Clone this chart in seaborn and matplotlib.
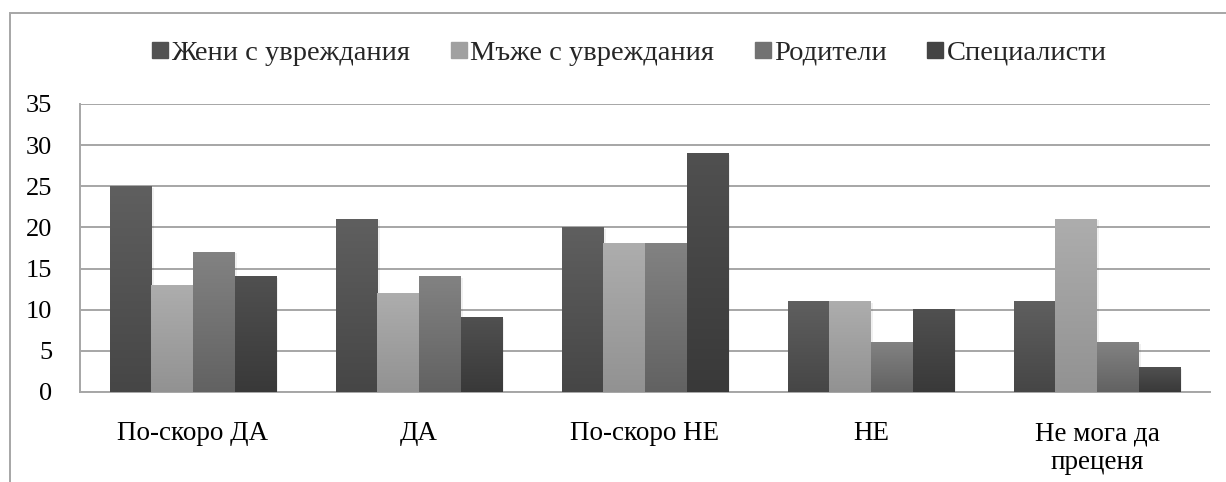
import numpy as np
import pandas as pd
import matplotlib
matplotlib.use("Agg")
import matplotlib.pyplot as plt
from matplotlib.colors import to_rgb
from matplotlib.lines import Line2D
from matplotlib.patches import Rectangle
import seaborn as sns

categories = ["По-скоро ДА", "ДА", "По-скоро НЕ", "НЕ", "Не мога да\nпреценя"]
series = ["Жени с увреждания", "Мъже с увреждания", "Родители", "Специалисти"]
women = [25, 21, 20, 11, 11]
men = [13, 12, 18, 11, 21]
parents = [17, 14, 18, 6, 6]
specialists = [14, 9, 29, 10, 3]

# top / bottom shades of each series' vertical gradient
top_colors = ["#5f5f5f", "#adadad", "#828282", "#505050"]
bottom_colors = ["#464646", "#929292", "#626262", "#393939"]
mid_colors = ["#525252", "#a0a0a0", "#727272", "#444444"]

df = pd.DataFrame({
    "cat": np.repeat(categories, len(series)),
    "series": series * len(categories),
    "val": [v for row in zip(women, men, parents, specialists) for v in row],
})

sns.set_style("white")
plt.rcParams["font.family"] = ["Liberation Serif", "DejaVu Serif"]

fig = plt.figure(figsize=(12.26, 4.82), dpi=100)
ax = fig.add_axes([80 / 1226, 1 - 392 / 482, 1130 / 1226, 288 / 482])

sns.barplot(data=df, x="cat", y="val", hue="series", hue_order=series,
            order=categories, palette=mid_colors, width=0.735, saturation=1,
            legend=False, ax=ax, zorder=3, linewidth=0, edgecolor="none")

# vertical gradient fill on every bar
n_cat = len(categories)
for i, patch in enumerate(ax.patches):
    s = i // n_cat
    x, w, h = patch.get_x(), patch.get_width(), patch.get_height()
    if h <= 0:
        continue
    c0 = np.array(to_rgb(top_colors[s]))
    c1 = np.array(to_rgb(bottom_colors[s]))
    t = np.linspace(0, 1, 64)[:, None]
    grad = (c0 * (1 - t) + c1 * t)[:, None, :]
    # soft drop shadow to the right/bottom
    ax.add_patch(Rectangle((x + 0.01, -0.15), w, h, facecolor="#000000",
                           alpha=0.06, edgecolor="none", zorder=2.5))
    ax.imshow(grad, extent=[x, x + w, 0, h], aspect="auto", zorder=3.5,
              interpolation="bilinear")

ax.set_xlim(-0.5, n_cat - 0.5)
ax.set_ylim(0, 35)
ax.set_yticks(range(0, 36, 5))
ax.grid(axis="y", color="#a6a6a6", linewidth=1.4, zorder=0)
ax.grid(axis="x", visible=False)
ax.set_xlabel("")
ax.set_ylabel("")

for side in ["top", "right"]:
    ax.spines[side].set_visible(False)
for side in ["left", "bottom"]:
    ax.spines[side].set_color("#a6a6a6")
    ax.spines[side].set_linewidth(1.4)

ax.set_xticks(range(n_cat))
ax.set_xticklabels(categories, fontsize=19.5, linespacing=1.18)
ax.set_xticks(np.arange(-0.5, n_cat, 1.0), minor=True)
ax.tick_params(axis="x", which="major", length=0, pad=21)
ax.tick_params(axis="x", which="minor", length=8, width=1.4, color="#a6a6a6",
               direction="out")
ax.tick_params(axis="y", length=8, width=1.4, color="#a6a6a6", direction="out",
               labelsize=19, pad=12)
for lbl in ax.get_xticklabels() + ax.get_yticklabels():
    lbl.set_color("#000000")

handles = [Line2D([], [], marker="s", linestyle="none", markersize=11.5,
                  markerfacecolor=c, markeredgecolor=c) for c in mid_colors]
fig.legend(handles, series, loc="center", bbox_to_anchor=(629 / 1226, 1 - 53 / 482),
           ncol=4, frameon=False, fontsize=20.5, handletextpad=0.1,
           columnspacing=1.4, handlelength=0.6)

# chart area border
fig.patches.append(Rectangle((9.5 / 1226, -0.1), 1.2, 1 - 12.5 / 482 + 0.1,
                             transform=fig.transFigure, facecolor="none",
                             edgecolor="#a6a6a6", linewidth=1.4))

fig.savefig("out.png", dpi=100)
